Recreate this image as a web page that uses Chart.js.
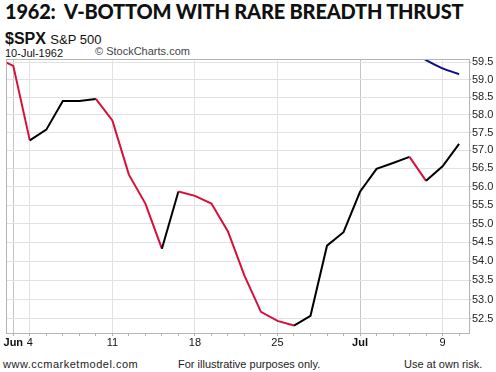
<!DOCTYPE html>
<html>
<head>
<meta charset="utf-8">
<script src="https://cdn.jsdelivr.net/npm/chart.js@4.4.1/dist/chart.umd.min.js"></script>
<style>
  body { margin: 0; background: #fff; }
  #wrap { position: relative; width: 496px; height: 372px; overflow: hidden; font-family: "Liberation Sans", Arial, sans-serif; color: #111; }
  .txt { position: absolute; white-space: pre; }
  #title { left: 5px; top: -1px; font-family: Lato, sans-serif; font-weight: 900; font-size: 20px; letter-spacing: -0.2px; }
  #sym { left: 5px; top: 30px; font-size: 16px; font-weight: bold; }
  #sym span { font-size: 13px; font-weight: normal; }
  #date { left: 5px; top: 47px; font-size: 11px; }
  #sc { left: 95px; top: 45px; font-size: 11px; color: #444; }
  .foot { top: 358px; font-size: 11px; color: #222; }
  #chartbox { position: absolute; left: 0; top: 0; width: 496px; height: 372px; }
</style>
</head>
<body>
<div id="wrap">
  <div class="txt" id="title">1962:  V-BOTTOM WITH RARE BREADTH THRUST</div>
  <div class="txt" id="sym">$SPX <span>S&amp;P 500</span></div>
  <div class="txt" id="date">10-Jul-1962</div>
  <div class="txt" id="sc">© StockCharts.com</div>
  <div class="txt foot" style="left:3px; letter-spacing:0.5px">www.ccmarketmodel.com</div>
  <div class="txt foot" style="left:178px">For illustrative purposes only.</div>
  <div class="txt foot" style="left:404px">Use at own risk.</div>
  <div id="chartbox"><canvas id="spx-chart"></canvas></div>
</div>
<script>
// ---------------------------------------------------------------------------------------
// data (trading days, May 31 sits just left of the plot)

var days = ['May 31','Jun 1','Jun 4','Jun 5','Jun 6','Jun 7','Jun 8',
  'Jun 11','Jun 12','Jun 13','Jun 14','Jun 15',
  'Jun 18','Jun 19','Jun 20','Jun 21','Jun 22',
  'Jun 25','Jun 26','Jun 27','Jun 28','Jun 29',
  'Jul 2','Jul 3','Jul 4','Jul 5','Jul 6','Jul 9','Jul 10'];

var closes = [59.63, 59.40, 57.28, 57.58, 58.39, 58.39, 58.45,
  57.84, 56.33, 55.54, 54.33, 55.87,
  55.75, 55.54, 54.79, 53.62, 52.68,
  52.45, 52.33, 52.58, 54.41, 54.77,
  55.86, 56.49, 56.65, 56.82, 56.16, 56.56, 57.18];

// moving average, only the tail is inside the price range
var movavg = [null, null, null, null, null, null, null,
  null, null, null, null, null,
  null, null, null, null, null,
  null, null, null, null, null,
  null, null, null, 59.85, 59.57, 59.33, 59.16];

var xTickLabels = {1: 'Jun', 2: '4', 7: '11', 12: '18', 17: '25', 22: 'Jul', 27: '9'};
var monthTicks = [1, 22];
var yTicks = [52.5, 53.0, 53.5, 54.0, 54.5, 55.0, 55.5, 56.0, 56.5, 57.0, 57.5, 58.0, 58.5, 59.0, 59.5];

var pricePts = closes.map(function(v, i){ return {x: i, y: v}; });
var maPts = [];
movavg.forEach(function(v, i){ if (v !== null) maPts.push({x: i, y: v}); });

var RED = '#d6103c';

var frame = {
  id: 'frame',
  afterDraw: function(chart){
    var a = chart.chartArea, c = chart.ctx;
    c.save();
    c.strokeStyle = '#b4b4b4';
    c.lineWidth = 1;
    c.strokeRect(Math.round(a.left) + 0.5, Math.round(a.top) + 0.5, Math.round(a.right - a.left), Math.round(a.bottom - a.top));
    c.restore();
  }
};

new Chart(document.getElementById('spx-chart'), {
  type: 'line',
  data: {
    datasets: [
      {
        label: 'MA',
        data: maPts,
        borderColor: '#0a0a8c',
        borderWidth: 2,
        pointRadius: 0,
        tension: 0.3
      },
      {
        label: '$SPX',
        data: pricePts,
        borderColor: '#000',
        borderWidth: 2,
        pointRadius: 0,
        segment: {
          borderColor: function(ctx){ return ctx.p1.parsed.y < ctx.p0.parsed.y ? RED : '#000'; }
        }
      }
    ]
  },
  options: {
    animation: false,
    responsive: true,
    maintainAspectRatio: false,
    layout: {padding: {top: 59, left: 6, right: 0, bottom: 19}},
    plugins: {legend: {display: false}, tooltip: {enabled: false}},
    scales: {
      x: {
        type: 'linear',
        min: 0.558,
        max: 28.6,
        afterBuildTicks: function(scale){
          var t = [];
          for (var i = 1; i <= 28; i++) t.push({value: i});
          scale.ticks = t;
        },
        afterFit: function(scale){ scale.height = 20; },
        border: {display: false},
        grid: {
          color: function(ctx){
            var v = ctx.tick ? ctx.tick.value : -1;
            if (monthTicks.indexOf(v) >= 0) return '#c4c4c4';
            if (xTickLabels[v] !== undefined) return '#e2e2e2';
            return 'rgba(0,0,0,0)';
          },
          tickColor: '#b0b0b0',
          tickLength: 3,
          drawOnChartArea: true
        },
        ticks: {
          autoSkip: false,
          maxRotation: 0,
          padding: 0,
          color: '#111',
          font: function(ctx){
            var v = ctx.tick ? ctx.tick.value : -1;
            return {family: '"Liberation Sans", Arial', size: 11, weight: monthTicks.indexOf(v) >= 0 ? 'bold' : 'normal'};
          },
          callback: function(v){ return xTickLabels[v] !== undefined ? xTickLabels[v] : ''; }
        }
      },
      y: {
        type: 'logarithmic',
        position: 'right',
        min: 52.14,
        max: 59.6,
        afterBuildTicks: function(scale){
          scale.ticks = yTicks.map(function(v){ return {value: v}; });
        },
        afterFit: function(scale){ scale.width = 27; },
        border: {display: false},
        grid: {color: '#e2e2e2', tickColor: '#b0b0b0', tickLength: 2},
        ticks: {
          padding: 1,
          color: '#222',
          font: {family: '"Liberation Sans", Arial', size: 11},
          callback: function(v){ return Number(v).toFixed(1); }
        }
      }
    }
  },
  plugins: [frame]
});
</script>
</body>
</html>
